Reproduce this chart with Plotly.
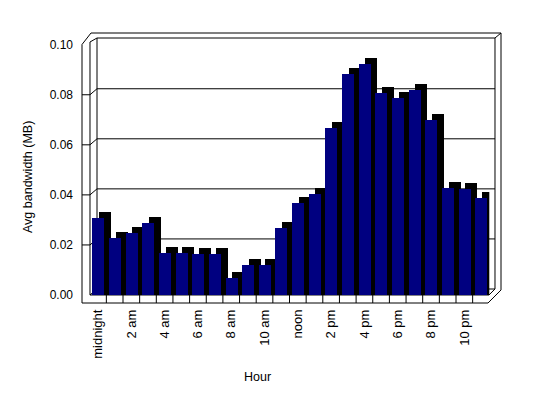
import plotly.graph_objects as go

# ---- data ----
hours = list(range(24))
bandwidth = [0.031, 0.023, 0.025, 0.029, 0.017, 0.017, 0.0165, 0.0165,
             0.007, 0.012, 0.012, 0.027, 0.037, 0.0405, 0.067, 0.0885,
             0.0925, 0.081, 0.079, 0.082, 0.070, 0.043, 0.0425, 0.039]
tick_hours = [0, 2, 4, 6, 8, 10, 12, 14, 16, 18, 20, 22]
tick_labels = ["midnight", "2 am", "4 am", "6 am", "8 am", "10 am",
               "noon", "2 pm", "4 pm", "6 pm", "8 pm", "10 pm"]
y_ticks = [0.0, 0.02, 0.04, 0.06, 0.08, 0.10]

# ---- geometry (pixels) ----
W, H = 548, 398
PL, PR, PT, PB = 82, 501, 33, 303          # paper box
X0, X1 = 89.7, 489.3                       # x-axis span
Y0, Y1 = 295, 44.7                         # y=0 and y=0.10 pixels
BAR_W = 0.72                               # front face width (category units)
DEPTH_X = 0.40                             # bar depth in category units
DEPTH_Y = 0.0024                           # bar depth in value units

pw, ph = PR - PL, PB - PT


def px(x):
    return (x - PL) / pw


def py(y):
    return (PB - y) / ph


FONT = "Liberation Sans, Arial, sans-serif"

fig = go.Figure()

# shadow (top + side of the 3D bars)
fig.add_trace(go.Bar(
    x=hours, y=[v + DEPTH_Y for v in bandwidth], base=0,
    width=BAR_W, offset=-BAR_W / 2 + DEPTH_X,
    marker=dict(color="#000000", line=dict(width=0)),
    cliponaxis=False, hoverinfo="skip", showlegend=False))
# front faces
fig.add_trace(go.Bar(
    x=hours, y=bandwidth,
    width=BAR_W, offset=-BAR_W / 2,
    marker=dict(color="#000080", line=dict(width=0)),
    cliponaxis=False, showlegend=False))

line = dict(color="black", width=1)
shapes = []


def path(pts, closed=False):
    d = "M " + " L ".join(f"{px(a):.5f},{py(b):.5f}" for a, b in pts)
    return d + (" Z" if closed else "")


# outer silhouette
shapes.append(dict(type="path", xref="paper", yref="paper", layer="below", line=line,
                   path=path([(82, 303), (82, 44.5), (91, 33), (501, 33),
                              (501, 290), (488, 303)], closed=True)))
# inner wall / floor edges
shapes.append(dict(type="path", xref="paper", yref="paper", layer="below", line=line,
                   path=path([(90, 295), (90, 42), (97, 38), (495, 38),
                              (495, 289), (489, 295)])))
shapes.append(dict(type="path", xref="paper", yref="paper", layer="below", line=line,
                   path=path([(495, 38), (501, 33)])))
shapes.append(dict(type="path", xref="paper", yref="paper", layer="below", line=line,
                   path=path([(90, 295), (489, 295)])))
shapes.append(dict(type="path", xref="paper", yref="paper", layer="below", line=line,
                   path=path([(97, 38), (97, 289), (495, 289)])))
shapes.append(dict(type="path", xref="paper", yref="paper", layer="below", line=line,
                   path=path([(90, 295), (97, 289)])))

# floor strip dividers (category boundaries)
for h in hours[:-1]:
    shapes.append(dict(type="line", xref="x", yref="paper", layer="below", line=line,
                       x0=h + 0.5, x1=h + 0.5, y0=py(303), y1=py(295)))

# gridlines (front side segment + back wall)
for v in y_ticks[1:-1]:
    shapes.append(dict(type="path", xref="paper", yref="y", layer="below", line=line,
                       path=f"M {px(82):.5f},{v} L {px(90):.5f},{v} "
                            f"L {px(97):.5f},{v + DEPTH_Y} L {px(495):.5f},{v + DEPTH_Y}"))

fig.update_layout(
    width=W, height=H,
    margin=dict(l=PL, r=W - PR, t=PT, b=H - PB, pad=0),
    paper_bgcolor="white", plot_bgcolor="rgba(0,0,0,0)",
    font=dict(family=FONT, size=12, color="black"),
    bargap=0, showlegend=False,
    shapes=shapes,
    xaxis=dict(domain=[px(X0), px(X1)], range=[-0.5, 23.5], anchor="y",
               tickmode="array", tickvals=tick_hours, ticktext=tick_labels,
               tickangle=-90, showgrid=False, zeroline=False, showline=False,
               ticks="", ticklabelstandoff=11, tickfont=dict(size=13)),
    yaxis=dict(domain=[py(Y0), py(Y1)], range=[0, 0.10], anchor="free", position=0,
               tickmode="array", tickvals=y_ticks, tickformat=".2f",
               showgrid=False, zeroline=False, showline=False,
               ticks="", ticklabelstandoff=9, tickfont=dict(size=12)),
    annotations=[
        dict(text="Avg bandwidth (MB)", textangle=-90, xref="paper", yref="paper",
             x=px(28), y=py(177), xanchor="center", yanchor="middle",
             showarrow=False, font=dict(size=12.5)),
        dict(text="Hour", xref="paper", yref="paper",
             x=px(257), y=py(377), xanchor="center", yanchor="middle",
             showarrow=False, font=dict(size=12.5)),
    ],
)

fig.write_html("out.html", config={"displayModeBar": False},
               post_script="document.body.style.margin='0';document.body.style.padding='0';")
